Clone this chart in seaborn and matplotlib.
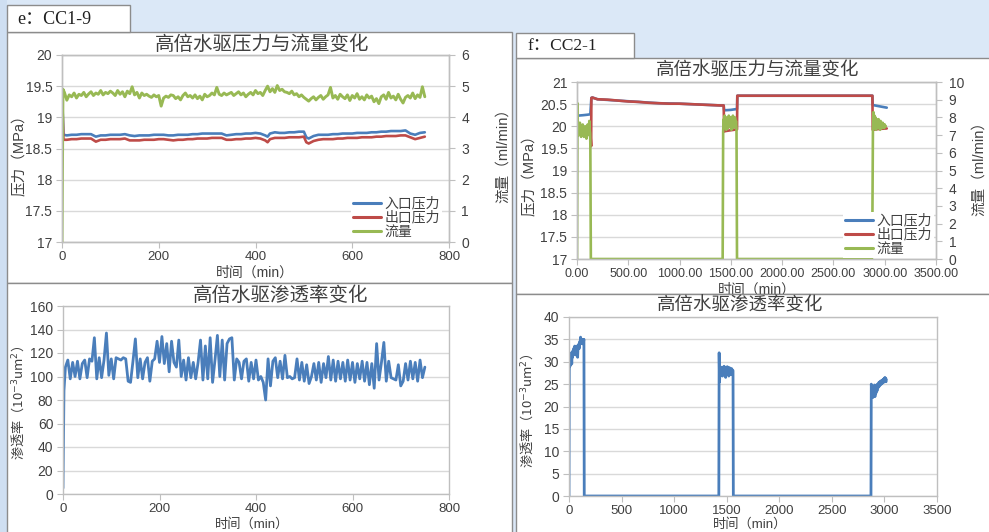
import numpy as np
import pandas as pd
import matplotlib
matplotlib.use('Agg')
import matplotlib.pyplot as plt
import seaborn as sns
from matplotlib.patches import Rectangle
from matplotlib.lines import Line2D
from matplotlib.ticker import FormatStrFormatter

# ---------------- data : CC1-9 ----------------
p_time1 = [0, 3, 10, 20, 30, 40, 50, 60, 70, 80, 90, 100, 110, 120, 130, 140, 150, 160, 170, 180,
           190, 200, 210, 220, 230, 240, 250, 260, 270, 280, 290, 300, 310, 320, 330, 340, 350, 360,
           370, 380, 390, 400, 410, 420, 425, 430, 440, 450, 460, 470, 480, 490, 500, 505, 510, 520,
           530, 540, 550, 560, 570, 580, 590, 600, 610, 620, 630, 640, 650, 660, 670, 680, 690, 700,
           710, 720, 730, 740, 750]
inlet1 = [19.45, 18.72, 18.71, 18.72, 18.72, 18.73, 18.73, 18.73, 18.69, 18.71, 18.71, 18.72, 18.72,
          18.72, 18.73, 18.71, 18.70, 18.71, 18.71, 18.71, 18.72, 18.72, 18.72, 18.71, 18.71, 18.72,
          18.72, 18.72, 18.73, 18.73, 18.74, 18.74, 18.74, 18.74, 18.74, 18.71, 18.72, 18.73, 18.73,
          18.74, 18.74, 18.75, 18.74, 18.71, 18.69, 18.74, 18.76, 18.75, 18.75, 18.76, 18.76, 18.77,
          18.77, 18.68, 18.66, 18.70, 18.72, 18.72, 18.72, 18.73, 18.73, 18.74, 18.74, 18.74, 18.75,
          18.75, 18.75, 18.76, 18.76, 18.77, 18.77, 18.78, 18.78, 18.78, 18.79, 18.74, 18.72, 18.75,
          18.76]
outlet1 = [19.45, 18.64, 18.64, 18.65, 18.65, 18.66, 18.66, 18.66, 18.61, 18.64, 18.64, 18.65, 18.65,
           18.65, 18.66, 18.63, 18.63, 18.63, 18.64, 18.64, 18.64, 18.65, 18.65, 18.64, 18.63, 18.64,
           18.64, 18.65, 18.65, 18.66, 18.66, 18.66, 18.67, 18.67, 18.67, 18.64, 18.64, 18.65, 18.65,
           18.66, 18.66, 18.67, 18.66, 18.63, 18.60, 18.65, 18.67, 18.67, 18.67, 18.68, 18.68, 18.68,
           18.69, 18.60, 18.58, 18.62, 18.64, 18.65, 18.65, 18.65, 18.66, 18.66, 18.67, 18.67, 18.67,
           18.68, 18.68, 18.68, 18.69, 18.69, 18.70, 18.70, 18.70, 18.71, 18.71, 18.68, 18.65, 18.67,
           18.69]

f_time1 = [0, 2] + list(range(5, 755, 5))
flow1 = [0.0, 4.90,
         4.80, 4.55, 4.72, 4.66, 4.78, 4.62, 4.74, 4.70, 4.80, 4.66,
         4.75, 4.82, 4.70, 4.78, 4.74, 4.86, 4.72, 4.80, 4.76, 4.84,
         4.78, 4.70, 4.86, 4.74, 4.82, 4.66, 4.84, 4.76, 4.98, 4.72,
         4.80, 4.62, 4.78, 4.70, 4.74, 4.68, 4.64, 4.72, 4.66, 4.70,
         4.36, 4.62, 4.68, 4.64, 4.72, 4.70, 4.60, 4.66, 4.56, 4.70,
         4.78, 4.66, 4.70, 4.62, 4.72, 4.60, 4.68, 4.56, 4.74, 4.66,
         4.70, 4.78, 4.72, 4.96, 4.74, 4.70, 4.78, 4.72, 4.76, 4.80,
         4.70, 4.76, 4.82, 4.72, 4.78, 4.66, 4.74, 4.80, 4.72, 4.86,
         4.76, 4.80, 4.70, 4.86, 5.00, 4.82, 4.92, 4.80, 5.02, 4.86,
         4.90, 4.82, 4.80, 4.76, 4.84, 4.72, 4.76, 4.66, 4.72, 4.64,
         4.58, 4.52, 4.60, 4.66, 4.56, 4.64, 4.70, 4.58, 4.66, 4.72,
         4.96, 4.62, 4.70, 4.58, 4.74, 4.66, 4.60, 4.72, 4.54, 4.70,
         4.62, 4.76, 4.58, 4.66, 4.56, 4.72, 4.62, 4.68, 4.50, 4.60,
         4.44, 4.66, 4.72, 4.58, 4.80, 4.62, 4.68, 4.56, 4.74, 4.58,
         4.46, 4.64, 4.70, 4.62, 4.78, 4.60, 4.72, 4.64, 4.98, 4.66]

k_time1 = [0, 2] + list(range(5, 755, 5))
perm1 = [5, 88,
         108, 114, 98, 112, 100, 113, 98, 111, 114, 99,
         115, 113, 133, 98, 116, 99, 114, 137, 101, 115,
         98, 116, 115, 114, 116, 115, 96, 95, 113, 132,
         99, 115, 98, 112, 116, 96, 113, 115, 130, 112,
         134, 111, 128, 104, 130, 112, 108, 131, 100, 114,
         97, 116, 99, 112, 98, 112, 131, 97, 126, 98,
         133, 95, 114, 135, 100, 131, 97, 128, 132, 133,
         97, 115, 112, 98, 113, 115, 96, 112, 98, 114,
         97, 100, 95, 80, 115, 92, 113, 116, 99, 113,
         98, 118, 99, 100, 98, 99, 115, 97, 112, 96,
         110, 94, 100, 111, 97, 112, 95, 111, 99, 117,
         97, 114, 96, 113, 98, 112, 96, 114, 97, 112,
         95, 111, 98, 113, 96, 112, 93, 111, 90, 128,
         97, 112, 129, 96, 113, 99, 98, 97, 110, 92,
         96, 111, 97, 113, 98, 112, 96, 114, 99, 108]

# ---------------- data : CC2-1 ----------------
i_time2 = [0, 10, 60, 100, 130, 140, 150, 200, 400, 600, 800, 1000, 1200, 1400, 1430, 1435, 1500,
           1560, 1563, 2000, 2880, 2883, 2950, 3020]
inlet2 = [20.24, 20.24, 20.25, 20.26, 20.27, 20.64, 20.65, 20.61, 20.58, 20.55, 20.52, 20.51, 20.49,
          20.47, 20.47, 20.36, 20.37, 20.39, 20.69, 20.69, 20.69, 20.48, 20.45, 20.42]
o_time2 = [0, 10, 60, 100, 130, 138, 140, 150, 160, 200, 300, 400, 500, 600, 700, 800, 900, 1000,
           1100, 1200, 1300, 1400, 1430, 1435, 1445, 1500, 1560, 1563, 1700, 2000, 2500, 2880, 2883,
           2950, 3020]
outlet2 = [19.84, 19.85, 19.87, 19.86, 19.87, 19.55, 20.64, 20.65, 20.64, 20.61, 20.60, 20.58, 20.56,
           20.55, 20.53, 20.52, 20.51, 20.51, 20.50, 20.49, 20.48, 20.47, 20.47, 19.88, 19.89, 19.91,
           19.93, 20.69, 20.69, 20.69, 20.69, 20.69, 19.92, 19.94, 19.95]

f_time2 = ([0, 5, 8, 12, 16, 20, 24, 28, 32, 36, 40, 44, 48, 52, 56, 60, 64, 68, 72, 76, 80, 84, 88,
            92, 96, 100, 104, 108, 112, 116, 120, 124, 128, 130, 135, 1420]
           + list(range(1425, 1560, 5)) + [1560, 2875, 2880] + list(range(2885, 3015, 5)))
flow2 = ([0.0, 8.8, 7.2, 7.6, 7.0, 7.5, 7.2, 7.7, 7.1, 7.4, 6.9, 7.5, 7.3, 7.0, 7.6, 7.2, 7.4, 6.9,
          7.3, 7.1, 7.5, 7.0, 7.2, 6.8, 7.4, 7.1, 7.6, 7.2, 7.5, 7.0, 7.8, 7.3, 7.1, 6.5, 0.0, 0.0]
         + [7.2, 7.9, 7.4, 8.1, 7.6, 7.9, 7.3, 8.0, 7.5, 7.8, 7.4, 8.1, 7.6, 7.9, 7.5, 8.0, 7.3, 7.8,
            7.6, 8.1, 7.4, 7.9, 7.6, 8.0, 7.5, 7.8, 7.4]
         + [0.0, 0.0, 2.3]
         + [7.2, 8.3, 7.4, 8.1, 7.5, 8.0, 7.3, 7.9, 7.6, 7.8, 7.4, 7.9, 7.5, 7.7, 7.3, 7.8, 7.5, 7.6,
            7.4, 7.7, 7.5, 7.6, 7.4, 7.6, 7.5, 7.5])

k_time2 = ([0, 3, 6, 10, 14, 18, 22, 26, 30, 34, 38, 42, 46, 50, 54, 58, 62, 66, 70, 74, 78, 82, 86,
            90, 94, 98, 102, 106, 110, 114, 118, 122, 126, 130, 134, 138, 142, 145, 1425, 1428, 1432,
            1436] + list(range(1440, 1565, 5)) + [1563, 2872, 2875] + list(range(2880, 3020, 5)) + [3017])
perm2 = ([0, 28, 30, 29, 31, 30, 32, 29.5, 32, 31, 32.5, 31.5, 33, 32, 33.5, 32.5, 33, 31.5, 33.5, 32,
          33, 31, 33.5, 33, 34, 33, 34.5, 34, 35.5, 35, 34.5, 35, 34, 35, 35, 34.5, 35, 0,
          0, 32, 25.5, 28]
         + [27.5, 28.5, 27, 28.8, 26.8, 28.2, 27.4, 29, 27, 28.5, 26.5, 28.6, 27.8, 28.9, 27.2, 28.4,
            26.8, 28.7, 27.6, 28.3, 27.1, 28.5, 27.8, 28.2, 28.0]
         + [0, 0, 25]
         + [22.5, 24.5, 22, 24, 22.5, 24.8, 22.2, 24, 23, 24.8, 23.5, 25, 24.2, 25.3, 24.5, 25.5, 24.8,
            25.7, 25, 25.8, 25.2, 26, 25.4, 26.2, 25.5, 26.5, 25.6, 26.2] + [25.6])

series_labels = ['入口压力', '出口压力', '流量']
title_pf = '高倍水驱压力与流量变化'
title_k = '高倍水驱渗透率变化'
perm_label = '渗透率（10$^{-3}$um$^{2}$）'

# ---------------- styling ----------------
sns.set_theme(style='white')
plt.rcParams['font.family'] = ['Liberation Sans', 'Noto Sans CJK SC', 'DejaVu Sans']
plt.rcParams['axes.unicode_minus'] = False
CJK = ['Noto Sans CJK SC', 'DejaVu Sans']

BLUE, RED, GREEN = '#4a7ebb', '#be4b48', '#98b954'
TXT = '#404040'
W, H = 989, 532
fig = plt.figure(figsize=(W / 100, H / 100), dpi=100)
fig.patch.set_facecolor('#dbe8f7')


def fx(x):
    return x / W


def fy(y):
    return 1 - y / H


def box(x0, y0, x1, y1, z=-5, fc='white', ec='#8c8c8c'):
    fig.add_artist(Rectangle((fx(x0), fy(y1)), (x1 - x0) / W, (y1 - y0) / H,
                             transform=fig.transFigure, facecolor=fc, edgecolor=ec,
                             lw=1.0, zorder=z))


def ftext(x, y, s, size, rot=0, z=10, **kw):
    fig.text(fx(x), fy(y), s, fontsize=size, rotation=rot, ha='center', va='center',
             color=TXT, zorder=z, **kw)


def new_ax(x0, y0, x1, y1, xlim, xticks, ylim, yticks, xfmt='%g', xsize=9.5, z=5):
    ax = fig.add_axes([fx(x0), fy(y1), (x1 - x0) / W, (y1 - y0) / H])
    ax.set_zorder(z)
    ax.set_facecolor('white')
    ax.set_xlim(*xlim)
    ax.set_ylim(*ylim)
    ax.set_xticks(xticks)
    ax.set_yticks(yticks)
    ax.xaxis.set_major_formatter(FormatStrFormatter(xfmt))
    ax.yaxis.set_major_formatter(FormatStrFormatter('%g'))
    ax.yaxis.grid(True, color='#d9d9d9', lw=1)
    ax.xaxis.grid(False)
    ax.set_axisbelow(True)
    for s in ax.spines.values():
        s.set_color('#bfbfbf')
        s.set_linewidth(1)
    ax.tick_params(axis='both', bottom=True, left=True, length=4, width=0.8, color='#bfbfbf',
                   labelcolor=TXT, pad=3, direction='out')
    ax.tick_params(axis='y', labelsize=10)
    ax.tick_params(axis='x', labelsize=xsize, pad=2.5)
    return ax


def twin(ax, ylim, yticks, z):
    a2 = ax.twinx()
    a2.set_zorder(z)
    a2.set_ylim(*ylim)
    a2.set_yticks(yticks)
    a2.yaxis.set_major_formatter(FormatStrFormatter('%g'))
    a2.grid(False)
    for s in a2.spines.values():
        s.set_color('#bfbfbf')
        s.set_linewidth(1)
    a2.tick_params(axis='y', right=True, length=4, width=0.8, color='#bfbfbf', labelcolor=TXT,
                   labelsize=10, pad=5)
    return a2


def line(ax, x, y, c, lw=1.9):
    sns.lineplot(x=x, y=y, ax=ax, color=c, linewidth=lw, estimator=None, sort=False, legend=False)
    ax.set_xlabel('')
    ax.set_ylabel('')


def legend(ax, x, y):
    handles = [Line2D([0], [0], color=c, lw=2.2) for c in (BLUE, RED, GREEN)]
    lg = ax.legend(handles, series_labels, loc='lower left',
                   bbox_to_anchor=(fx(x), fy(y)), bbox_transform=fig.transFigure,
                   fontsize=10, handlelength=2.0, handletextpad=0.25, labelspacing=0.0,
                   borderpad=0.15, borderaxespad=0, frameon=True, facecolor='white',
                   edgecolor='none', framealpha=1, fancybox=False, labelcolor=TXT)
    lg.set_zorder(20)


# ---------------- panels / background ----------------
box(0, 0, 7, 532, z=-9, fc='#cfdff2', ec='none')
box(7, 32, 512, 283)
box(7, 283, 512, 540)
box(516, 58, 995, 294)
box(7, 5, 130, 32, z=-4)
box(516, 33, 634, 58, z=-4)
fig.text(fx(17), fy(19), 'e：CC1-9', fontsize=13, ha='left', va='center', color='#202020',
         family=['Liberation Serif', 'Noto Sans CJK SC'])
fig.text(fx(527), fy(46), 'f：CC2-1', fontsize=12.5, ha='left', va='center', color='#202020',
         family=['Liberation Serif', 'Noto Sans CJK SC'])

# ---------------- top-left: CC1-9 pressure / flow ----------------
ax = new_ax(62, 55, 449, 242, (0, 800), [0, 200, 400, 600, 800], (17, 20),
            [17, 17.5, 18, 18.5, 19, 19.5, 20])
line(ax, p_time1, inlet1, BLUE)
line(ax, p_time1, outlet1, RED)
ax2 = twin(ax, (0, 6), [0, 1, 2, 3, 4, 5, 6], 6)
line(ax2, f_time1, flow1, GREEN, lw=2.1)
legend(ax2, 351, 241)
ftext(262, 45, title_pf, 14)
ftext(20, 152, '压力（MPa）', 10.5, rot=90)
ftext(503, 152, '流量（ml/min）', 10.5, rot=90)
ftext(255, 273, '时间（min）', 10)

# ---------------- top-right: CC2-1 pressure / flow ----------------
ax = new_ax(577, 82, 936, 259, (0, 3500), list(range(0, 3501, 500)), (17, 21),
            [17, 17.5, 18, 18.5, 19, 19.5, 20, 20.5, 21], xfmt='%.2f', xsize=9, z=7)
line(ax, i_time2, inlet2, BLUE)
line(ax, o_time2, outlet2, RED)
ax2 = twin(ax, (0, 10), list(range(0, 11)), 8)
line(ax2, f_time2, flow2, GREEN)
legend(ax2, 843, 258)
ftext(758, 70, title_pf, 13.3)
ftext(530, 172, '压力（MPa）', 10.5, rot=90)
ftext(979, 165, '流量（ml/min）', 10.5, rot=90)
ftext(757, 290, '时间（min）', 10, z=1)

box(516, 294, 995, 540, z=2)

# ---------------- bottom-left: CC1-9 permeability ----------------
ax = new_ax(63, 306, 449, 494, (0, 800), [0, 200, 400, 600, 800], (0, 160),
            list(range(0, 161, 20)), z=9)
line(ax, k_time1, perm1, BLUE, lw=2.0)
ftext(281, 296, title_k, 14)
ftext(18, 403, perm_label, 9.5, rot=90, family=CJK)
ftext(252, 524, '时间（min）', 9.5)

# ---------------- bottom-right: CC2-1 permeability ----------------
ax = new_ax(569, 317, 937, 496, (0, 3500), list(range(0, 3501, 500)), (0, 40),
            list(range(0, 41, 5)), z=9)
line(ax, k_time2, perm2, BLUE, lw=2.0)
ftext(740, 306, title_k, 13.3)
ftext(527, 411, perm_label, 9.5, rot=90, family=CJK)
ftext(750, 524, '时间（min）', 9.5)

fig.savefig('out.png', dpi=100, facecolor=fig.get_facecolor())
